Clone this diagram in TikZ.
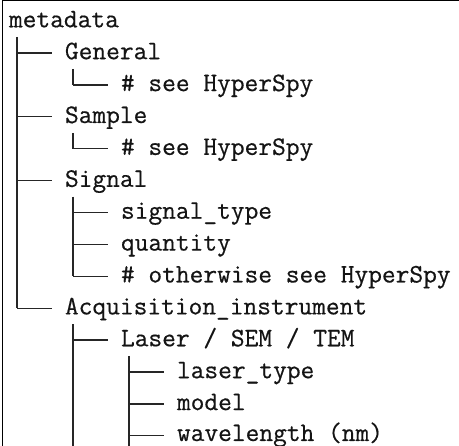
\documentclass[tikz,border=0pt]{standalone}
\usepackage{fontspec}
\newfontfamily\treefont[FakeBold=0.5]{Latin Modern Mono}
\begin{document}
\begin{tikzpicture}[x=1pt,y=-1pt,
  lbl/.style={anchor=base west,inner sep=0pt,outer sep=0pt,font=\fontsize{26.67}{32}\selectfont\treefont,text=black!92},
  branch/.style={draw=black!85,line width=1.3pt,line cap=butt},
  frameline/.style={draw=black,line width=1pt}]
\useasboundingbox (0,0) rectangle (459,446);
% frame (left and top edges visible)
\draw[frameline] (2.6,446) -- (2.6,1.0) -- (459,1.0);
% text nodes (baseline = row line + 6.2)
\node[lbl] (meta)  at (9,27.3)   {metadata};
\node[lbl] (gen)   at (65,59.2)  {General};
\node[lbl] (gens)  at (121,91.1) {\# see HyperSpy};
\node[lbl] (samp)  at (65,123.0) {Sample};
\node[lbl] (samps) at (121,154.9) {\# see HyperSpy};
\node[lbl] (sig)   at (65,186.8) {Signal};
\node[lbl] (sigt)  at (121,218.7) {signal\_type};
\node[lbl] (quan)  at (121,250.6) {quantity};
\node[lbl] (sigo)  at (121,282.5) {\# otherwise see HyperSpy};
\node[lbl] (acq)   at (65,314.4) {Acquisition\_instrument};
\node[lbl] (las)   at (121,346.3) {Laser / SEM / TEM};
\node[lbl] (last)  at (177,378.2) {laser\_type};
\node[lbl] (mod)   at (177,410.1) {model};
\node[lbl] (wave)  at (177,441.0) {wavelength (nm)};
% trunk coordinates
\coordinate (t1top) at (17,37.0);
\coordinate (t1end) at (17,308.2);
\coordinate (t2a) at (73,69.0);   \coordinate (t2ae) at (73,84.9);
\coordinate (t2b) at (73,132.8);  \coordinate (t2be) at (73,148.7);
\coordinate (t2c) at (73,196.6);  \coordinate (t2ce) at (73,276.3);
\coordinate (t2d) at (73,324.2);  \coordinate (t2de) at (73,446);
\coordinate (t3a) at (129,356.0); \coordinate (t3ae) at (129,446);
% verticals
\draw[branch] (t1top) -- (t1end);
\draw[branch] (t2a) -- (t2ae);
\draw[branch] (t2b) -- (t2be);
\draw[branch] (t2c) -- (t2ce);
\draw[branch] (t2d) -- (t2de);
\draw[branch] (t3a) -- (t3ae);
% horizontals: from trunk to 13pt left of the child text
\foreach \c/\y/\x in {gen/53.0/17, samp/116.8/17, sig/180.6/17, acq/308.2/17,
                     gens/84.9/73, samps/148.7/73, sigt/212.5/73, quan/244.4/73, sigo/276.3/73, las/340.1/73,
                     last/372.0/129, mod/403.9/129, wave/435.8/129}
  \draw[branch] (\x,\y) -- ([xshift=-13pt]\c.base west |- 0,\y);
\end{tikzpicture}
\end{document}
